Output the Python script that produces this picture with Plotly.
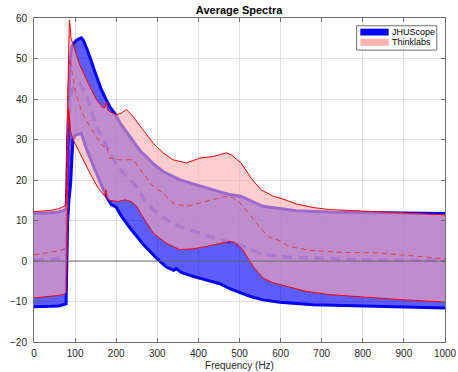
import plotly.graph_objects as go

# ---------------- data ----------------
jhu_upper_f = [0, 20, 40, 60, 75, 78, 80, 82, 85, 88, 92, 100, 108, 115, 120, 131, 148, 164, 176, 185, 196, 210,
               233, 260, 273, 290, 314, 354, 395, 435, 476, 503, 557, 638, 719, 800, 900, 1000]
jhu_upper = [11.8, 11.8, 11.9, 12.1, 12.6, 13.0, 18, 30, 44, 50, 53, 54.2, 54.8, 55.1, 54.5, 51.8, 46.8, 42.3, 39.8,
             38.0, 36.5, 34.0, 30.8, 27.0, 25.8, 24.0, 22.1, 20.1, 18.8, 17.6, 16.4, 16.0, 13.5, 12.4, 12.1, 12.0,
             11.8, 11.7]

jhu_lower_f = [0, 20, 40, 60, 75, 78, 80, 82, 85, 89, 92, 95, 100, 115, 130, 148, 165, 176, 188, 200, 213, 237, 265,
               298, 322, 340, 346, 350, 358, 387, 419, 452, 476, 500, 525, 557, 598, 679, 800, 900, 1000]
jhu_lower = [-11.3, -11.3, -11.2, -11.1, -10.8, -10.6, 0, 10, 15, 19, 25, 30, 31, 31.5, 27, 22.5, 18.5, 16, 13.9,
             13.3, 11, 7.7, 4.2, 0.7, -1.5, -2.3, -1.9, -2.2, -2.8, -3.8, -4.6, -5.6, -6.8, -7.8, -8.7, -9.6,
             -10.2, -10.8, -11.1, -11.4, -11.6]

jhu_mean_f = [0, 20, 40, 60, 75, 78, 80, 83, 87, 95, 103, 111, 120, 127, 136, 145, 152, 160, 176, 192, 217, 249,
              273, 298, 322, 355, 403, 452, 500, 557, 614, 679, 719, 800, 900, 1000]
jhu_mean = [0.2, 0.3, 0.4, 0.6, 1.0, 1.5, 10, 30, 39.8, 42.5, 43.5, 43.9, 42.5, 41, 38.5, 35, 33, 31.6, 28.3, 25.4,
            21.7, 18.4, 14.3, 11.9, 10.2, 8.5, 6.9, 5.3, 4.0, 1.6, 1.0, 0.8, 0.5, 0.3, 0.2, 0.2]

tl_upper_f = [0, 20, 40, 60, 75, 78, 80, 82, 84, 86, 88, 90, 95, 103, 111, 120, 131, 152, 168, 173, 176, 179, 184,
              200, 212, 225, 241, 265, 290, 314, 338, 371, 403, 436, 468, 480, 504, 528, 552, 582, 606, 638, 679,
              719, 800, 900, 1000]
tl_upper = [12.2, 12.3, 12.5, 12.9, 13.6, 14.0, 20, 40, 56, 59.5, 58, 55, 53.5, 51, 48.5, 46.5, 44, 39.8, 37.8,
            37.9, 39.4, 37.3, 36.9, 36.1, 36.5, 37.4, 35.7, 32.4, 29.1, 26.7, 25, 24.2, 25.4, 25.8, 26.7, 26.2,
            24.2, 20.5, 17.6, 16, 15.3, 14.1, 13.2, 12.7, 12.3, 11.8, 11.4]

tl_lower_f = [0, 20, 40, 60, 75, 78, 80, 82, 84, 86, 89, 95, 107, 123, 140, 156, 172, 175, 178, 184, 204, 221, 237,
              250, 261, 290, 322, 355, 387, 419, 452, 476, 488, 508, 533, 557, 582, 614, 663, 719, 800, 900, 1000]
tl_lower = [-9.1, -8.9, -8.7, -8.5, -8.1, -7.8, 5, 25, 37.5, 36, 32, 30, 27.5, 24.2, 20.9, 18, 16, 17.6, 15.5, 15,
            14.7, 15.1, 14.7, 13.5, 11.5, 6.9, 4.4, 2.8, 3.0, 3.6, 4.4, 4.8, 4.6, 2.8, -1.3, -4.2, -5.4, -6.3,
            -7.5, -8.3, -8.9, -9.6, -10.1]

tl_mean_f = [0, 20, 40, 60, 75, 78, 80, 82, 85, 88, 92, 99, 107, 119, 136, 152, 168, 176, 184, 208, 241, 265, 290,
             314, 338, 371, 403, 436, 468, 484, 500, 525, 548, 570, 598, 621, 674, 755, 836, 917, 1000]
tl_mean = [1.5, 1.8, 2.1, 2.5, 3.0, 3.3, 10, 35, 48, 50, 47, 43, 39.8, 36.1, 33.2, 30.8, 28.3, 28.5, 25.4, 25, 25,
           21.7, 18.4, 16.8, 14.3, 13.5, 14.3, 15.1, 16, 15.6, 14.5, 11.5, 8.5, 6.0, 5.0, 3.6, 2.6, 2.1, 2.0, 1.3,
           0.5]

series_names = ["JHUScope", "Thinklabs"]
x_range = [0, 1000]
y_range = [-20, 60]
x_ticks = [0, 100, 200, 300, 400, 500, 600, 700, 800, 900, 1000]
y_ticks = [-20, -10, 0, 10, 20, 30, 40, 50, 60]

# ---------------- styles ----------------
BLUE_FILL = "rgba(0,0,255,0.64)"
PINK_FILL = "rgba(255,173,173,0.61)"
LEGEND_SWATCH = ["rgb(0,0,255)", "rgb(255,180,180)"]
FONT = "Liberation Sans, Arial, Helvetica, sans-serif"
TXT = "rgb(38,38,38)"
AXC = "rgb(110,110,110)"

fig = go.Figure()


def band(fu, vu, fl, vl, color):
    return go.Scatter(x=list(fu) + list(fl)[::-1], y=list(vu) + list(vl)[::-1], mode="lines",
                      fill="toself", fillcolor=color, line=dict(width=0), hoverinfo="skip",
                      showlegend=False)


# JHUScope band, edges and mean
fig.add_trace(band(jhu_upper_f, jhu_upper, jhu_lower_f, jhu_lower, BLUE_FILL))
fig.add_trace(go.Scatter(x=jhu_upper_f, y=jhu_upper, mode="lines", line=dict(color="blue", width=3),
                         showlegend=False))
fig.add_trace(go.Scatter(x=jhu_lower_f, y=jhu_lower, mode="lines", line=dict(color="blue", width=3),
                         showlegend=False))
fig.add_trace(go.Scatter(x=jhu_mean_f, y=jhu_mean, mode="lines",
                         line=dict(color="rgb(40,40,255)", width=3.5, dash="10px,6px"), showlegend=False))

# Thinklabs band, edges and mean
fig.add_trace(band(tl_upper_f, tl_upper, tl_lower_f, tl_lower, PINK_FILL))
fig.add_trace(go.Scatter(x=tl_upper_f, y=tl_upper, mode="lines", line=dict(color="red", width=1),
                         showlegend=False))
fig.add_trace(go.Scatter(x=tl_lower_f, y=tl_lower, mode="lines", line=dict(color="red", width=1),
                         showlegend=False))
fig.add_trace(go.Scatter(x=tl_mean_f, y=tl_mean, mode="lines",
                         line=dict(color="rgb(235,40,40)", width=0.8, dash="5px,4px"), showlegend=False))

# zero reference line
fig.add_shape(type="line", xref="paper", x0=0, x1=1, yref="y", y0=0, y1=0,
              line=dict(color="rgb(105,105,105)", width=1), layer="above")

# compact MATLAB-style legend box
lg_x0, lg_x1, lg_y0, lg_y1 = 0.785, 0.980, 0.901, 0.976
fig.add_shape(type="rect", xref="paper", yref="paper", x0=lg_x0, x1=lg_x1, y0=lg_y0, y1=lg_y1,
              fillcolor="white", line=dict(color=AXC, width=1), layer="above")
sw_rows = [(0.946, 0.967), (0.914, 0.936)]
for name, col, (ya, yb) in zip(series_names, LEGEND_SWATCH, sw_rows):
    fig.add_shape(type="rect", xref="paper", yref="paper", x0=0.794, x1=0.863, y0=ya, y1=yb,
                  fillcolor=col, line=dict(width=0), layer="above")
    fig.add_annotation(xref="paper", yref="paper", x=0.866, y=(ya + yb) / 2, xanchor="left",
                       yanchor="middle", text=name, showarrow=False,
                       font=dict(family=FONT, size=9, color="black"))

axis_common = dict(showgrid=True, gridcolor="rgb(225,225,225)", gridwidth=1, zeroline=False,
                   showline=True, linecolor=AXC, linewidth=1, mirror="ticks",
                   ticks="inside", ticklen=4, tickcolor=AXC, automargin=False,
                   tickfont=dict(family=FONT, size=10, color=TXT))

fig.update_layout(
    width=458, height=372,
    margin=dict(l=34, r=13, t=18, b=30),
    paper_bgcolor="white", plot_bgcolor="white",
    title=dict(text="<b>Average Spectra</b>", x=0.522, xanchor="center", y=0.974, yanchor="middle",
               font=dict(family=FONT, size=11, color="black")),
    xaxis=dict(range=x_range, tickvals=x_ticks, ticklabelstandoff=2,
               title=dict(text="Frequency (Hz)", standoff=3, font=dict(family=FONT, size=10, color=TXT)),
               **axis_common),
    yaxis=dict(range=y_range, tickvals=y_ticks, ticklabelstandoff=4, **axis_common),
    showlegend=False,
)

fig.write_html(
    "out.html",
    config={"displayModeBar": False},
    post_script="document.body.style.margin='0';document.body.style.padding='0';"
                "document.body.style.overflow='hidden';",
)
